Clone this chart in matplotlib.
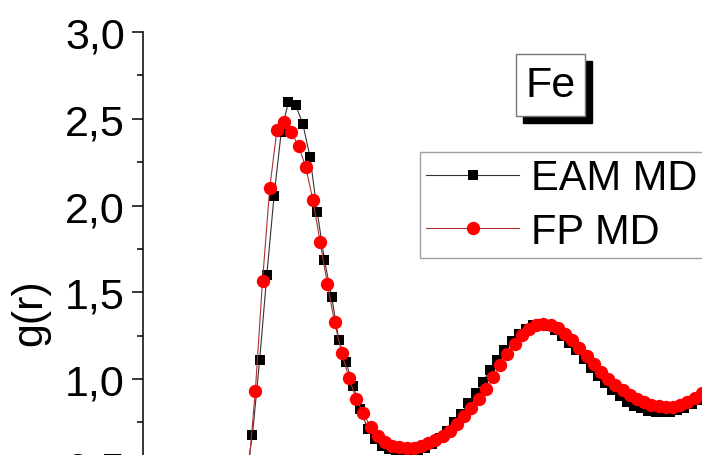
import numpy as np
import matplotlib
matplotlib.use("Agg")
import matplotlib.pyplot as plt
from matplotlib.patches import Rectangle

plt.rcParams['font.family'] = ['Liberation Sans', 'DejaVu Sans']

# g(r) of liquid Fe (r in Angstrom, grid step 0.05)
r_eam = np.round(np.arange(2.15, 5.41, 0.05), 3)
g_eam = [0.22, 0.40, 0.677, 1.11, 1.60, 2.055, 2.424, 2.597, 2.579, 2.47, 2.28,
         1.963, 1.686, 1.473, 1.225, 1.098, 0.96, 0.827, 0.712, 0.655, 0.615,
         0.595, 0.585, 0.58, 0.58, 0.585, 0.60, 0.625, 0.66, 0.70, 0.75, 0.80,
         0.86, 0.92, 0.985, 1.05, 1.11, 1.17, 1.22, 1.26, 1.29, 1.31, 1.315,
         1.305, 1.285, 1.25, 1.21, 1.165, 1.115, 1.065, 1.02, 0.975, 0.935,
         0.90, 0.87, 0.845, 0.83, 0.818, 0.812, 0.81, 0.812, 0.82, 0.835,
         0.855, 0.88, 0.91]

r_fp = np.round(np.arange(2.17, 5.43, 0.05), 3)
g_fp = [0.25, 0.45, 0.931, 1.565, 2.101, 2.435, 2.481, 2.424, 2.343, 2.222,
        2.032, 1.79, 1.548, 1.329, 1.15, 1.006, 0.885, 0.804, 0.723, 0.671,
        0.637, 0.614, 0.608, 0.602, 0.605, 0.614, 0.631, 0.648, 0.671, 0.70,
        0.741, 0.787, 0.833, 0.885, 0.942, 1.012, 1.081, 1.144, 1.202, 1.254,
        1.288, 1.311, 1.317, 1.311, 1.294, 1.259, 1.225, 1.179, 1.133, 1.086,
        1.04, 1.0, 0.965, 0.937, 0.908, 0.885, 0.867, 0.853, 0.844, 0.839,
        0.841, 0.85, 0.867, 0.89, 0.919, 0.95]

y_ticks = [0.0, 0.5, 1.0, 1.5, 2.0, 2.5, 3.0]
y_tick_labels = ['0,0', '0,5', '1,0', '1,5', '2,0', '2,5', '3,0']

W, H = 702, 456
fig = plt.figure(figsize=(W / 100, H / 100), dpi=100)
# the original figure is cropped: the axes run past the bottom and right edges
ax = fig.add_axes([143 / W, (H - 553.5) / H, (W - 143) / W, 520.5 / H])

ax.plot(r_eam[:len(g_eam)], g_eam, color='#333333', lw=0.8, marker='s',
        ms=7.8, mew=0, mfc='black', label='EAM MD')
ax.plot(r_fp[:len(g_fp)], g_fp, color='#b03030', lw=0.8, marker='o',
        ms=9.6, mew=0, mfc='#ff0000', label='FP MD')

ax.set_xlim(1.49, 1.49 + (W - 143) / 144)
ax.set_ylim(0, 3.0)
ax.set_yticks(y_ticks)
ax.set_yticklabels(y_tick_labels)
ax.set_yticks(np.arange(0.25, 3.0, 0.5), minor=True)
ax.tick_params(axis='y', which='major', direction='out', length=8, width=1.1,
               labelsize=31, pad=5)
ax.tick_params(axis='y', which='minor', direction='out', length=4.3, width=1.1)
ax.tick_params(axis='x', bottom=False, labelbottom=False)
for side in ['top', 'right', 'bottom']:
    ax.spines[side].set_visible(False)
ax.spines['left'].set_linewidth(1.1)

fig.text(30 / W, 1 - 313 / H, 'g(r)', rotation=90, ha='center', va='center',
         fontsize=31)

# "Fe" label box with drop shadow
bx, by, bw, bh = 516, 55, 69, 62
fig.add_artist(Rectangle(((bx + 7) / W, 1 - (by + bh + 7) / H), bw / W, bh / H,
                         transform=fig.transFigure, facecolor='black',
                         edgecolor='black'))
fig.add_artist(Rectangle((bx / W, 1 - (by + bh) / H), bw / W, bh / H,
                         transform=fig.transFigure, facecolor='white',
                         edgecolor='#777777', lw=1))
fig.text((bx + bw / 2) / W, 1 - (by + bh / 2) / H, 'Fe', ha='center',
         va='center', fontsize=31)

leg = ax.legend(loc='upper left', bbox_to_anchor=(420 / W, 1 - 153 / H),
                bbox_transform=fig.transFigure, fontsize=30, frameon=True,
                fancybox=False, edgecolor='#888888', handlelength=2.23,
                handletextpad=0.29, borderpad=0.15, labelspacing=0.32,
                borderaxespad=0)
leg.get_frame().set_linewidth(1)

fig.savefig('out.png', dpi=100)
